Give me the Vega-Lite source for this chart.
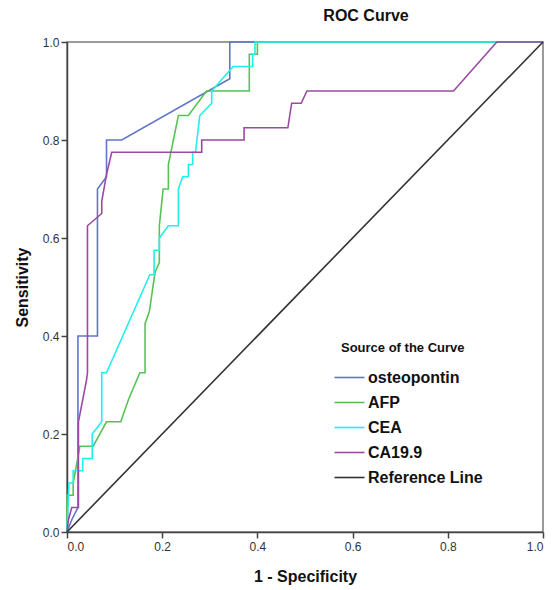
{
  "$schema": "https://vega.github.io/schema/vega-lite/v6.json",
  "width": 476,
  "height": 490,
  "autosize": {"type": "none"},
  "padding": {"left": 67, "top": 42, "right": 12, "bottom": 58},
  "background": "white",
  "config": {
    "font": "Liberation Sans",
    "view": {"stroke": "#7a7a7a", "strokeWidth": 1.5},
    "axis": {
      "labelFont": "Liberation Sans",
      "labelFontSize": 12,
      "labelColor": "#333333",
      "titleFont": "Liberation Sans",
      "titleFontSize": 16,
      "titleFontWeight": "bold",
      "titleColor": "#111111",
      "domainColor": "#444444",
      "domainWidth": 1.5,
      "tickColor": "#444444",
      "tickWidth": 1.5,
      "tickSize": 6,
      "grid": false
    }
  },
  "title": {
    "text": "ROC Curve",
    "font": "Liberation Sans",
    "fontSize": 16,
    "fontWeight": "bold",
    "color": "#111111",
    "anchor": "middle",
    "dx": 61,
    "offset": 12
  },
  "data": {
    "values": [
      {"curve": "osteopontin", "i": 0, "x": 0, "y": 0},
      {"curve": "osteopontin", "i": 1, "x": 0.01, "y": 0.025},
      {"curve": "osteopontin", "i": 2, "x": 0.023, "y": 0.05},
      {"curve": "osteopontin", "i": 3, "x": 0.023, "y": 0.4},
      {"curve": "osteopontin", "i": 4, "x": 0.064, "y": 0.4},
      {"curve": "osteopontin", "i": 5, "x": 0.064, "y": 0.7},
      {"curve": "osteopontin", "i": 6, "x": 0.083, "y": 0.725},
      {"curve": "osteopontin", "i": 7, "x": 0.083, "y": 0.8},
      {"curve": "osteopontin", "i": 8, "x": 0.115, "y": 0.8},
      {"curve": "osteopontin", "i": 9, "x": 0.342, "y": 0.925},
      {"curve": "osteopontin", "i": 10, "x": 0.342, "y": 1},
      {"curve": "osteopontin", "i": 11, "x": 1, "y": 1},

      {"curve": "AFP", "i": 0, "x": 0, "y": 0},
      {"curve": "AFP", "i": 1, "x": 0, "y": 0.075},
      {"curve": "AFP", "i": 2, "x": 0.013, "y": 0.075},
      {"curve": "AFP", "i": 3, "x": 0.013, "y": 0.1},
      {"curve": "AFP", "i": 4, "x": 0.027, "y": 0.175},
      {"curve": "AFP", "i": 5, "x": 0.055, "y": 0.175},
      {"curve": "AFP", "i": 6, "x": 0.083, "y": 0.225},
      {"curve": "AFP", "i": 7, "x": 0.113, "y": 0.225},
      {"curve": "AFP", "i": 8, "x": 0.129, "y": 0.27},
      {"curve": "AFP", "i": 9, "x": 0.153, "y": 0.325},
      {"curve": "AFP", "i": 10, "x": 0.164, "y": 0.325},
      {"curve": "AFP", "i": 11, "x": 0.164, "y": 0.425},
      {"curve": "AFP", "i": 12, "x": 0.173, "y": 0.45},
      {"curve": "AFP", "i": 13, "x": 0.185, "y": 0.53},
      {"curve": "AFP", "i": 14, "x": 0.194, "y": 0.55},
      {"curve": "AFP", "i": 15, "x": 0.194, "y": 0.625},
      {"curve": "AFP", "i": 16, "x": 0.202, "y": 0.7},
      {"curve": "AFP", "i": 17, "x": 0.213, "y": 0.7},
      {"curve": "AFP", "i": 18, "x": 0.213, "y": 0.75},
      {"curve": "AFP", "i": 19, "x": 0.234, "y": 0.85},
      {"curve": "AFP", "i": 20, "x": 0.255, "y": 0.85},
      {"curve": "AFP", "i": 21, "x": 0.293, "y": 0.9},
      {"curve": "AFP", "i": 22, "x": 0.383, "y": 0.9},
      {"curve": "AFP", "i": 23, "x": 0.383, "y": 0.975},
      {"curve": "AFP", "i": 24, "x": 0.4, "y": 0.975},
      {"curve": "AFP", "i": 25, "x": 0.4, "y": 1},
      {"curve": "AFP", "i": 26, "x": 1, "y": 1},

      {"curve": "CEA", "i": 0, "x": 0, "y": 0},
      {"curve": "CEA", "i": 1, "x": 0.004, "y": 0.1},
      {"curve": "CEA", "i": 2, "x": 0.013, "y": 0.1},
      {"curve": "CEA", "i": 3, "x": 0.013, "y": 0.125},
      {"curve": "CEA", "i": 4, "x": 0.033, "y": 0.125},
      {"curve": "CEA", "i": 5, "x": 0.033, "y": 0.15},
      {"curve": "CEA", "i": 6, "x": 0.053, "y": 0.15},
      {"curve": "CEA", "i": 7, "x": 0.053, "y": 0.2},
      {"curve": "CEA", "i": 8, "x": 0.073, "y": 0.225},
      {"curve": "CEA", "i": 9, "x": 0.073, "y": 0.325},
      {"curve": "CEA", "i": 10, "x": 0.083, "y": 0.325},
      {"curve": "CEA", "i": 11, "x": 0.174, "y": 0.525},
      {"curve": "CEA", "i": 12, "x": 0.183, "y": 0.525},
      {"curve": "CEA", "i": 13, "x": 0.183, "y": 0.575},
      {"curve": "CEA", "i": 14, "x": 0.194, "y": 0.575},
      {"curve": "CEA", "i": 15, "x": 0.194, "y": 0.6},
      {"curve": "CEA", "i": 16, "x": 0.213, "y": 0.625},
      {"curve": "CEA", "i": 17, "x": 0.234, "y": 0.625},
      {"curve": "CEA", "i": 18, "x": 0.234, "y": 0.7},
      {"curve": "CEA", "i": 19, "x": 0.243, "y": 0.725},
      {"curve": "CEA", "i": 20, "x": 0.255, "y": 0.725},
      {"curve": "CEA", "i": 21, "x": 0.255, "y": 0.75},
      {"curve": "CEA", "i": 22, "x": 0.264, "y": 0.75},
      {"curve": "CEA", "i": 23, "x": 0.264, "y": 0.775},
      {"curve": "CEA", "i": 24, "x": 0.27, "y": 0.775},
      {"curve": "CEA", "i": 25, "x": 0.279, "y": 0.85},
      {"curve": "CEA", "i": 26, "x": 0.304, "y": 0.875},
      {"curve": "CEA", "i": 27, "x": 0.304, "y": 0.9},
      {"curve": "CEA", "i": 28, "x": 0.349, "y": 0.95},
      {"curve": "CEA", "i": 29, "x": 0.39, "y": 0.95},
      {"curve": "CEA", "i": 30, "x": 0.39, "y": 0.975},
      {"curve": "CEA", "i": 31, "x": 0.395, "y": 0.975},
      {"curve": "CEA", "i": 32, "x": 0.395, "y": 1},
      {"curve": "CEA", "i": 33, "x": 1, "y": 1},

      {"curve": "CA19.9", "i": 0, "x": 0, "y": 0},
      {"curve": "CA19.9", "i": 1, "x": 0.003, "y": 0.025},
      {"curve": "CA19.9", "i": 2, "x": 0.01, "y": 0.05},
      {"curve": "CA19.9", "i": 3, "x": 0.024, "y": 0.05},
      {"curve": "CA19.9", "i": 4, "x": 0.024, "y": 0.225},
      {"curve": "CA19.9", "i": 5, "x": 0.041, "y": 0.31},
      {"curve": "CA19.9", "i": 6, "x": 0.043, "y": 0.325},
      {"curve": "CA19.9", "i": 7, "x": 0.043, "y": 0.625},
      {"curve": "CA19.9", "i": 8, "x": 0.073, "y": 0.65},
      {"curve": "CA19.9", "i": 9, "x": 0.073, "y": 0.675},
      {"curve": "CA19.9", "i": 10, "x": 0.083, "y": 0.73},
      {"curve": "CA19.9", "i": 11, "x": 0.094, "y": 0.775},
      {"curve": "CA19.9", "i": 12, "x": 0.283, "y": 0.775},
      {"curve": "CA19.9", "i": 13, "x": 0.283, "y": 0.8},
      {"curve": "CA19.9", "i": 14, "x": 0.372, "y": 0.8},
      {"curve": "CA19.9", "i": 15, "x": 0.372, "y": 0.825},
      {"curve": "CA19.9", "i": 16, "x": 0.464, "y": 0.825},
      {"curve": "CA19.9", "i": 17, "x": 0.472, "y": 0.875},
      {"curve": "CA19.9", "i": 18, "x": 0.492, "y": 0.875},
      {"curve": "CA19.9", "i": 19, "x": 0.504, "y": 0.9},
      {"curve": "CA19.9", "i": 20, "x": 0.812, "y": 0.9},
      {"curve": "CA19.9", "i": 21, "x": 0.903, "y": 1},
      {"curve": "CA19.9", "i": 22, "x": 1, "y": 1},

      {"curve": "Reference Line", "i": 0, "x": 0, "y": 0},
      {"curve": "Reference Line", "i": 1, "x": 1, "y": 1}
    ]
  },
  "mark": {"type": "line", "strokeWidth": 1.6, "clip": false},
  "encoding": {
    "x": {
      "field": "x",
      "type": "quantitative",
      "scale": {"domain": [0, 1], "nice": false},
      "axis": {"values": [0, 0.2, 0.4, 0.6, 0.8, 1], "format": ".1f", "title": "1 - Specificity", "titlePadding": 16, "labelPadding": 3}
    },
    "y": {
      "field": "y",
      "type": "quantitative",
      "scale": {"domain": [0, 1], "nice": false},
      "axis": {"values": [0, 0.2, 0.4, 0.6, 0.8, 1], "format": ".1f", "title": "Sensitivity", "titlePadding": 12, "labelPadding": 2}
    },
    "order": {"field": "i", "type": "quantitative"},
    "color": {
      "field": "curve",
      "type": "nominal",
      "scale": {
        "domain": ["osteopontin", "AFP", "CEA", "CA19.9", "Reference Line"],
        "range": ["#6276c8", "#55c455", "#22eeee", "#9a4aa2", "#333333"]
      },
      "legend": {
        "orient": "none",
        "legendX": 274,
        "legendY": 300,
        "title": "Source of the Curve",
        "titleFont": "Liberation Sans",
        "titleFontSize": 13,
        "titleFontWeight": "bold",
        "titleColor": "#111111",
        "titlePadding": 14,
        "labelFont": "Liberation Sans",
        "labelFontSize": 16,
        "labelFontWeight": "bold",
        "labelColor": "#111111",
        "labelOffset": 10,
        "symbolType": "M-2,0H2",
        "symbolSize": 225,
        "symbolStrokeWidth": 1.6,
        "rowPadding": 8,
        "padding": 0
      }
    }
  }
}
